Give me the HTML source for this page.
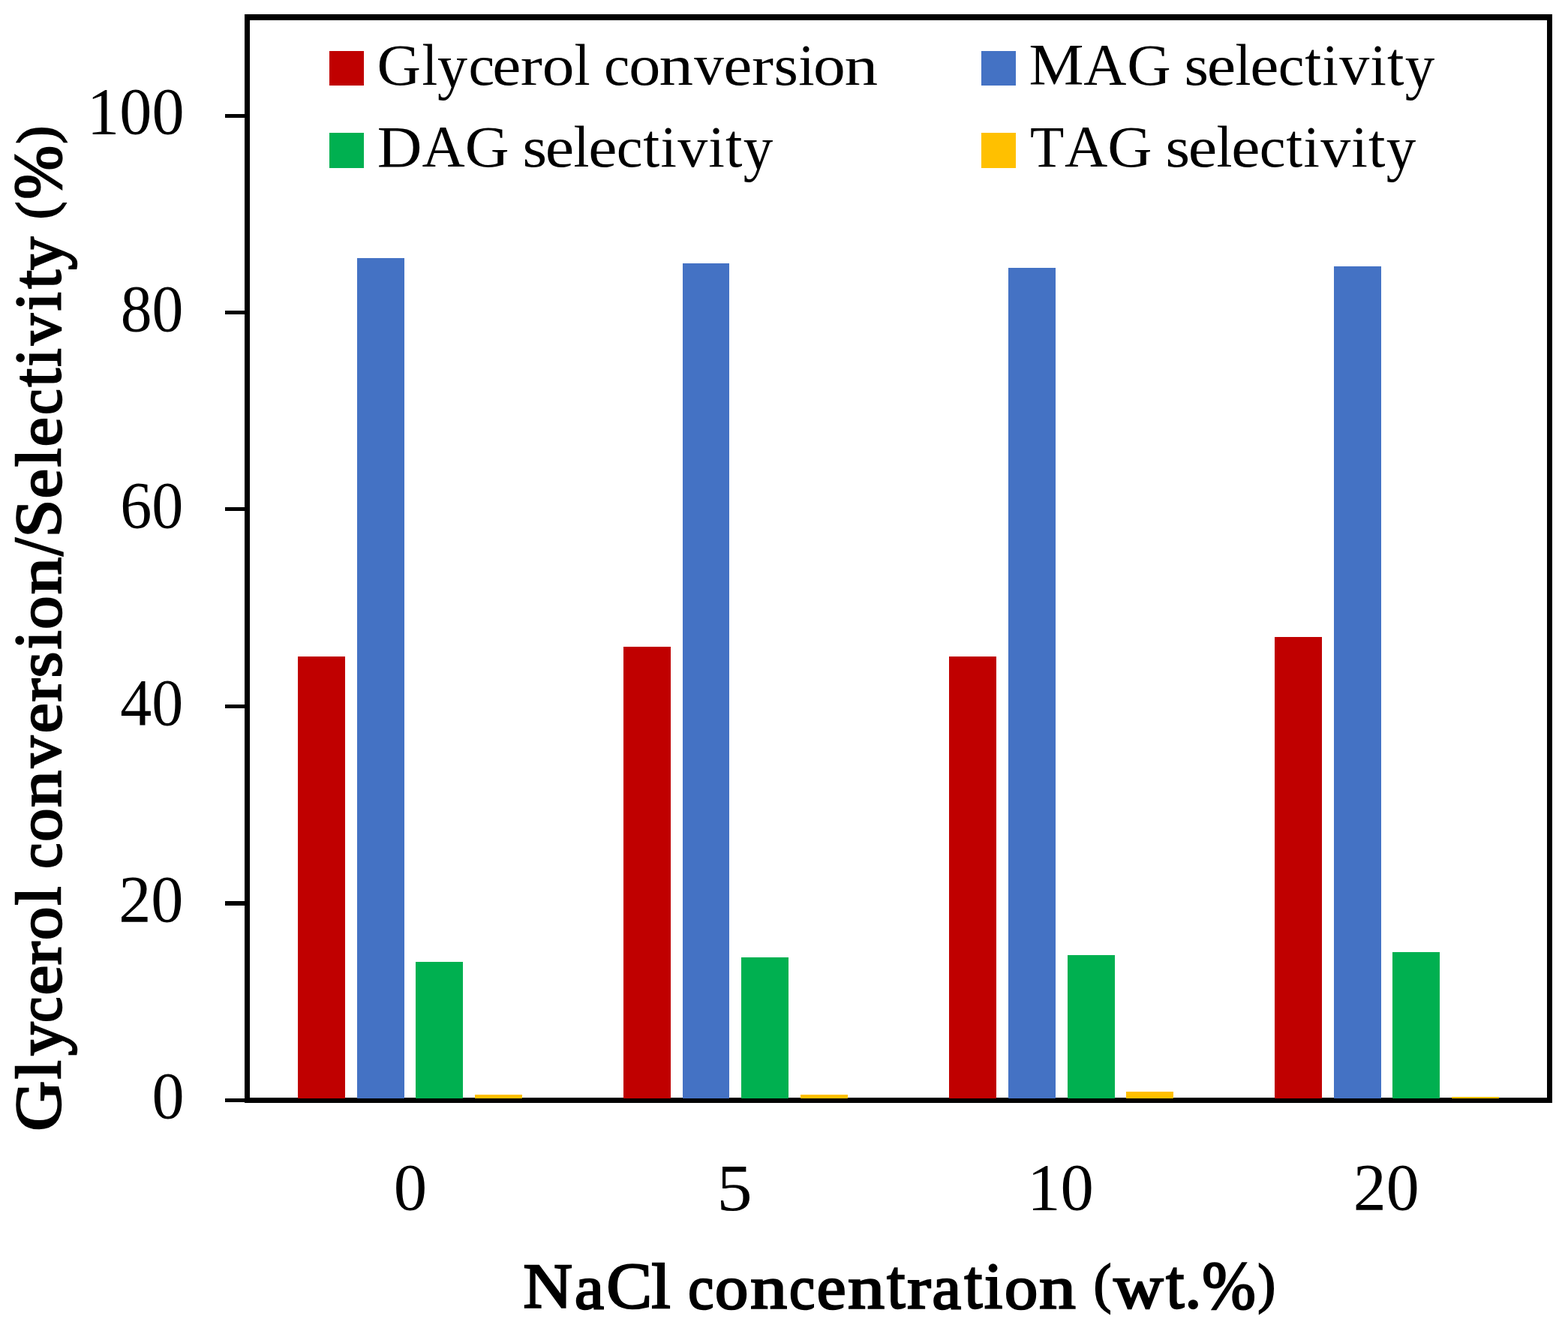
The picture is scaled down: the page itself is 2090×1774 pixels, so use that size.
<!DOCTYPE html>
<html lang="en"><head><meta charset="utf-8"><title>Glycerol conversion and selectivity vs NaCl concentration</title>
<style>html,body{margin:0;padding:0;background:#fff}body{width:2090px;height:1774px;overflow:hidden}svg{display:block}text{font-family:"Liberation Serif", serif;fill:#000}</style></head><body>
<svg width="2090" height="1774" viewBox="0 0 2090 1774" role="img" aria-label="Bar chart of glycerol conversion and MAG, DAG, TAG selectivity versus NaCl concentration">
<rect width="2090" height="1774" fill="#fff"/>
<path fill="#000" fill-rule="evenodd" d="M326 19H2069V1470H326Z M333 27H2062V1463H333Z"/>
<g fill="#000">
<rect x="300" y="152" width="27" height="5"/>
<rect x="300" y="414" width="27" height="5"/>
<rect x="300" y="676" width="27" height="5"/>
<rect x="300" y="939" width="27" height="5"/>
<rect x="300" y="1201" width="27" height="6"/>
<rect x="300" y="1464" width="27" height="5"/>
</g>
<g fill="#C00000">
<rect x="397" y="875" width="63" height="589"/>
<rect x="831" y="862" width="63" height="602"/>
<rect x="1265" y="875" width="63" height="589"/>
<rect x="1699" y="849" width="63" height="615"/>
</g>
<g fill="#4472C4">
<rect x="476" y="344" width="63" height="1120"/>
<rect x="910" y="351" width="62" height="1113"/>
<rect x="1344" y="357" width="63" height="1107"/>
<rect x="1778" y="355" width="63" height="1109"/>
</g>
<g fill="#00B050">
<rect x="554" y="1282" width="63" height="182"/>
<rect x="988" y="1276" width="63" height="188"/>
<rect x="1423" y="1273" width="63" height="191"/>
<rect x="1856" y="1269" width="63" height="195"/>
</g>
<g fill="#FFC000">
<rect x="633" y="1459" width="63" height="5"/>
<rect x="1067" y="1459" width="63" height="5"/>
<rect x="1501" y="1455" width="63" height="9"/>
<rect x="1935" y="1462" width="63" height="2"/>
</g>
<rect x="439" y="68" width="46" height="46" fill="#C00000"/>
<rect x="1308" y="68" width="46" height="46" fill="#4472C4"/>
<rect x="439" y="177" width="46" height="47" fill="#00B050"/>
<rect x="1308" y="177" width="46" height="47" fill="#FFC000"/>
<text><tspan x="116.11" y="178.33" font-size="88.64" textLength="129.41" lengthAdjust="spacingAndGlyphs">100</tspan></text>
<text><tspan x="160.66" y="440.72" font-size="88.57" textLength="83.75" lengthAdjust="spacingAndGlyphs">80</tspan></text>
<text><tspan x="160.27" y="703.13" font-size="88.60" textLength="84.14" lengthAdjust="spacingAndGlyphs">60</tspan></text>
<text><tspan x="160.36" y="965.54" font-size="88.73" textLength="83.93" lengthAdjust="spacingAndGlyphs">40</tspan></text>
<text><tspan x="158.22" y="1227.94" font-size="88.59" textLength="86.24" lengthAdjust="spacingAndGlyphs">20</tspan></text>
<text><tspan x="202.48" y="1490.33" font-size="88.62" textLength="43.13" lengthAdjust="spacingAndGlyphs">0</tspan></text>
<text><tspan x="524.69" y="1612.45" font-size="89.24" textLength="44.43" lengthAdjust="spacingAndGlyphs">0</tspan></text>
<text><tspan x="955.59" y="1612.90" font-size="89.83" textLength="47.17" lengthAdjust="spacingAndGlyphs">5</tspan></text>
<text><tspan x="1369.20" y="1612.43" font-size="89.18" textLength="88.69" lengthAdjust="spacingAndGlyphs">10</tspan></text>
<text><tspan x="1803.74" y="1612.43" font-size="89.15" textLength="87.91" lengthAdjust="spacingAndGlyphs">20</tspan></text>
<text><tspan x="502.63" y="113.11" font-size="78.95" textLength="58.50" lengthAdjust="spacingAndGlyphs">G</tspan><tspan x="562.50" y="112.80" font-size="77.19" textLength="20.71" lengthAdjust="spacingAndGlyphs">l</tspan><tspan x="583.00" y="115.87" font-size="83.51" textLength="40.02" lengthAdjust="spacingAndGlyphs">y</tspan><tspan x="624.50" y="113.00" font-size="77.08" textLength="34.73" lengthAdjust="spacingAndGlyphs">c</tspan><tspan x="656.31" y="113.00" font-size="77.08" textLength="38.07" lengthAdjust="spacingAndGlyphs">e</tspan><tspan x="693.85" y="112.80" font-size="74.79" textLength="29.12" lengthAdjust="spacingAndGlyphs">r</tspan><tspan x="722.82" y="113.00" font-size="77.08" textLength="42.67" lengthAdjust="spacingAndGlyphs">o</tspan><tspan x="765.57" y="112.80" font-size="77.19" textLength="21.19" lengthAdjust="spacingAndGlyphs">l</tspan> <tspan x="804.90" y="113.00" font-size="77.08" textLength="34.32" lengthAdjust="spacingAndGlyphs">c</tspan><tspan x="838.36" y="113.00" font-size="77.08" textLength="42.08" lengthAdjust="spacingAndGlyphs">o</tspan><tspan x="878.60" y="112.80" font-size="75.10" textLength="45.56" lengthAdjust="spacingAndGlyphs">n</tspan><tspan x="925.30" y="112.49" font-size="76.15" textLength="39.51" lengthAdjust="spacingAndGlyphs">v</tspan><tspan x="964.31" y="113.00" font-size="77.08" textLength="38.07" lengthAdjust="spacingAndGlyphs">e</tspan><tspan x="1001.96" y="112.80" font-size="74.71" textLength="29.03" lengthAdjust="spacingAndGlyphs">r</tspan><tspan x="1031.64" y="113.00" font-size="77.08" textLength="32.42" lengthAdjust="spacingAndGlyphs">s</tspan><tspan x="1064.18" y="112.78" font-size="77.58" textLength="21.40" lengthAdjust="spacingAndGlyphs">i</tspan><tspan x="1084.11" y="113.00" font-size="77.08" textLength="42.79" lengthAdjust="spacingAndGlyphs">o</tspan><tspan x="1125.44" y="112.80" font-size="74.91" textLength="44.74" lengthAdjust="spacingAndGlyphs">n</tspan></text>
<text><tspan x="502.71" y="221.86" font-size="77.99" textLength="59.67" lengthAdjust="spacingAndGlyphs">D</tspan><tspan x="562.62" y="220.90" font-size="77.67" textLength="57.18" lengthAdjust="spacingAndGlyphs">A</tspan><tspan x="619.71" y="222.21" font-size="78.97" textLength="58.85" lengthAdjust="spacingAndGlyphs">G</tspan> <tspan x="696.63" y="222.10" font-size="77.08" textLength="32.55" lengthAdjust="spacingAndGlyphs">s</tspan><tspan x="726.88" y="222.10" font-size="77.08" textLength="38.46" lengthAdjust="spacingAndGlyphs">e</tspan><tspan x="764.38" y="221.90" font-size="77.19" textLength="20.95" lengthAdjust="spacingAndGlyphs">l</tspan><tspan x="784.30" y="222.10" font-size="77.08" textLength="38.19" lengthAdjust="spacingAndGlyphs">e</tspan><tspan x="821.70" y="222.10" font-size="77.08" textLength="34.81" lengthAdjust="spacingAndGlyphs">c</tspan><tspan x="857.22" y="221.89" font-size="81.88" textLength="21.94" lengthAdjust="spacingAndGlyphs">t</tspan><tspan x="880.38" y="221.88" font-size="77.58" textLength="21.40" lengthAdjust="spacingAndGlyphs">i</tspan><tspan x="903.20" y="221.59" font-size="76.15" textLength="40.02" lengthAdjust="spacingAndGlyphs">v</tspan><tspan x="944.27" y="221.88" font-size="77.54" textLength="21.62" lengthAdjust="spacingAndGlyphs">i</tspan><tspan x="966.91" y="221.89" font-size="81.88" textLength="22.48" lengthAdjust="spacingAndGlyphs">t</tspan><tspan x="990.70" y="224.97" font-size="83.51" textLength="39.52" lengthAdjust="spacingAndGlyphs">y</tspan></text>
<text><tspan x="1371.52" y="112.35" font-size="78.29" textLength="73.02" lengthAdjust="spacingAndGlyphs">M</tspan><tspan x="1444.22" y="111.80" font-size="77.67" textLength="57.18" lengthAdjust="spacingAndGlyphs">A</tspan><tspan x="1502.24" y="113.11" font-size="78.94" textLength="58.44" lengthAdjust="spacingAndGlyphs">G</tspan> <tspan x="1578.63" y="113.00" font-size="77.08" textLength="32.55" lengthAdjust="spacingAndGlyphs">s</tspan><tspan x="1608.88" y="113.00" font-size="77.08" textLength="38.46" lengthAdjust="spacingAndGlyphs">e</tspan><tspan x="1646.38" y="112.80" font-size="77.19" textLength="20.95" lengthAdjust="spacingAndGlyphs">l</tspan><tspan x="1666.30" y="113.00" font-size="77.08" textLength="38.19" lengthAdjust="spacingAndGlyphs">e</tspan><tspan x="1703.70" y="113.00" font-size="77.08" textLength="34.81" lengthAdjust="spacingAndGlyphs">c</tspan><tspan x="1739.22" y="112.79" font-size="81.88" textLength="21.94" lengthAdjust="spacingAndGlyphs">t</tspan><tspan x="1762.38" y="112.78" font-size="77.58" textLength="21.40" lengthAdjust="spacingAndGlyphs">i</tspan><tspan x="1785.20" y="112.49" font-size="76.15" textLength="40.02" lengthAdjust="spacingAndGlyphs">v</tspan><tspan x="1826.27" y="112.78" font-size="77.54" textLength="21.62" lengthAdjust="spacingAndGlyphs">i</tspan><tspan x="1848.91" y="112.79" font-size="81.88" textLength="22.48" lengthAdjust="spacingAndGlyphs">t</tspan><tspan x="1872.70" y="115.87" font-size="83.51" textLength="39.52" lengthAdjust="spacingAndGlyphs">y</tspan></text>
<text><tspan x="1372.95" y="221.67" font-size="78.94" textLength="45.29" lengthAdjust="spacingAndGlyphs">T</tspan><tspan x="1419.12" y="220.90" font-size="77.67" textLength="57.28" lengthAdjust="spacingAndGlyphs">A</tspan><tspan x="1476.19" y="222.21" font-size="78.94" textLength="59.28" lengthAdjust="spacingAndGlyphs">G</tspan> <tspan x="1553.63" y="222.10" font-size="77.08" textLength="32.55" lengthAdjust="spacingAndGlyphs">s</tspan><tspan x="1583.88" y="222.10" font-size="77.08" textLength="38.46" lengthAdjust="spacingAndGlyphs">e</tspan><tspan x="1621.38" y="221.90" font-size="77.19" textLength="20.95" lengthAdjust="spacingAndGlyphs">l</tspan><tspan x="1641.30" y="222.10" font-size="77.08" textLength="38.19" lengthAdjust="spacingAndGlyphs">e</tspan><tspan x="1678.70" y="222.10" font-size="77.08" textLength="34.81" lengthAdjust="spacingAndGlyphs">c</tspan><tspan x="1714.22" y="221.89" font-size="81.88" textLength="21.94" lengthAdjust="spacingAndGlyphs">t</tspan><tspan x="1737.38" y="221.88" font-size="77.58" textLength="21.40" lengthAdjust="spacingAndGlyphs">i</tspan><tspan x="1760.20" y="221.59" font-size="76.15" textLength="40.02" lengthAdjust="spacingAndGlyphs">v</tspan><tspan x="1801.27" y="221.88" font-size="77.54" textLength="21.62" lengthAdjust="spacingAndGlyphs">i</tspan><tspan x="1823.91" y="221.89" font-size="81.88" textLength="22.48" lengthAdjust="spacingAndGlyphs">t</tspan><tspan x="1847.70" y="224.97" font-size="83.51" textLength="39.52" lengthAdjust="spacingAndGlyphs">y</tspan></text>
<text stroke="#000" stroke-width="2.5" stroke-linejoin="miter"><tspan x="697.51" y="1742.80" font-size="84.41" textLength="65.35" lengthAdjust="spacingAndGlyphs">N</tspan><tspan x="766.03" y="1743.67" font-size="81.96" textLength="38.87" lengthAdjust="spacingAndGlyphs">a</tspan><tspan x="808.46" y="1743.36" font-size="86.59" textLength="60.45" lengthAdjust="spacingAndGlyphs">C</tspan><tspan x="868.43" y="1742.75" font-size="83.82" textLength="25.07" lengthAdjust="spacingAndGlyphs">l</tspan> <tspan x="917.23" y="1743.65" font-size="81.88" textLength="34.09" lengthAdjust="spacingAndGlyphs">c</tspan><tspan x="953.04" y="1743.67" font-size="81.96" textLength="44.22" lengthAdjust="spacingAndGlyphs">o</tspan><tspan x="1000.28" y="1743.17" font-size="80.00" textLength="48.70" lengthAdjust="spacingAndGlyphs">n</tspan><tspan x="1052.03" y="1743.65" font-size="81.88" textLength="34.17" lengthAdjust="spacingAndGlyphs">c</tspan><tspan x="1088.87" y="1743.66" font-size="81.93" textLength="38.84" lengthAdjust="spacingAndGlyphs">e</tspan><tspan x="1130.38" y="1743.17" font-size="80.00" textLength="48.59" lengthAdjust="spacingAndGlyphs">n</tspan><tspan x="1182.32" y="1743.28" font-size="92.38" textLength="24.21" lengthAdjust="spacingAndGlyphs">t</tspan><tspan x="1209.50" y="1742.71" font-size="78.74" textLength="31.08" lengthAdjust="spacingAndGlyphs">r</tspan><tspan x="1242.46" y="1743.67" font-size="81.94" textLength="38.43" lengthAdjust="spacingAndGlyphs">a</tspan><tspan x="1285.42" y="1743.30" font-size="92.39" textLength="23.84" lengthAdjust="spacingAndGlyphs">t</tspan><tspan x="1311.90" y="1742.51" font-size="87.76" textLength="24.35" lengthAdjust="spacingAndGlyphs">i</tspan><tspan x="1339.14" y="1743.67" font-size="81.96" textLength="44.22" lengthAdjust="spacingAndGlyphs">o</tspan><tspan x="1385.39" y="1743.17" font-size="79.96" textLength="48.39" lengthAdjust="spacingAndGlyphs">n</tspan> <tspan x="1458.02" y="1735.39" font-size="72.81" textLength="23.04" lengthAdjust="spacingAndGlyphs">(</tspan><tspan x="1484.40" y="1742.64" font-size="82.07" textLength="65.87" lengthAdjust="spacingAndGlyphs">w</tspan><tspan x="1554.22" y="1743.28" font-size="92.38" textLength="24.21" lengthAdjust="spacingAndGlyphs">t</tspan><tspan x="1579.13" y="1742.69" font-size="88.98" textLength="22.69" lengthAdjust="spacingAndGlyphs">.</tspan><tspan x="1602.24" y="1744.33" font-size="90.49" textLength="71.56" lengthAdjust="spacingAndGlyphs">%</tspan><tspan x="1676.75" y="1735.45" font-size="72.43" textLength="23.12" lengthAdjust="spacingAndGlyphs">)</tspan></text>
<text transform="rotate(-90)" stroke="#000" stroke-width="2.5" stroke-linejoin="miter"><tspan x="-1507.80" y="80.45" font-size="86.57" textLength="67.17" lengthAdjust="spacingAndGlyphs">G</tspan><tspan x="-1438.17" y="79.85" font-size="83.82" textLength="25.07" lengthAdjust="spacingAndGlyphs">l</tspan><tspan x="-1406.92" y="83.36" font-size="88.96" textLength="44.54" lengthAdjust="spacingAndGlyphs">y</tspan><tspan x="-1362.77" y="80.75" font-size="81.88" textLength="34.09" lengthAdjust="spacingAndGlyphs">c</tspan><tspan x="-1326.35" y="80.77" font-size="81.95" textLength="39.40" lengthAdjust="spacingAndGlyphs">e</tspan><tspan x="-1286.10" y="79.81" font-size="78.74" textLength="30.75" lengthAdjust="spacingAndGlyphs">r</tspan><tspan x="-1253.06" y="80.77" font-size="81.96" textLength="44.22" lengthAdjust="spacingAndGlyphs">o</tspan><tspan x="-1206.57" y="79.85" font-size="83.82" textLength="25.07" lengthAdjust="spacingAndGlyphs">l</tspan> <tspan x="-1157.76" y="80.75" font-size="81.88" textLength="33.96" lengthAdjust="spacingAndGlyphs">c</tspan><tspan x="-1121.76" y="80.77" font-size="81.96" textLength="44.22" lengthAdjust="spacingAndGlyphs">o</tspan><tspan x="-1075.72" y="80.27" font-size="80.00" textLength="48.70" lengthAdjust="spacingAndGlyphs">n</tspan><tspan x="-1023.12" y="79.74" font-size="82.07" textLength="42.06" lengthAdjust="spacingAndGlyphs">v</tspan><tspan x="-977.39" y="80.78" font-size="82.01" textLength="40.05" lengthAdjust="spacingAndGlyphs">e</tspan><tspan x="-935.20" y="79.81" font-size="78.74" textLength="30.54" lengthAdjust="spacingAndGlyphs">r</tspan><tspan x="-903.35" y="80.75" font-size="81.85" textLength="34.55" lengthAdjust="spacingAndGlyphs">s</tspan><tspan x="-865.32" y="79.61" font-size="87.81" textLength="24.87" lengthAdjust="spacingAndGlyphs">i</tspan><tspan x="-838.66" y="80.77" font-size="81.96" textLength="44.22" lengthAdjust="spacingAndGlyphs">o</tspan><tspan x="-791.92" y="80.27" font-size="79.94" textLength="48.88" lengthAdjust="spacingAndGlyphs">n</tspan><tspan x="-740.66" y="81.82" font-size="92.96" textLength="23.35" lengthAdjust="spacingAndGlyphs">/</tspan><tspan x="-716.61" y="80.23" font-size="86.24" textLength="50.78" lengthAdjust="spacingAndGlyphs">S</tspan><tspan x="-664.34" y="80.76" font-size="81.95" textLength="39.17" lengthAdjust="spacingAndGlyphs">e</tspan><tspan x="-622.27" y="79.85" font-size="83.82" textLength="24.87" lengthAdjust="spacingAndGlyphs">l</tspan><tspan x="-595.33" y="80.76" font-size="81.93" textLength="39.05" lengthAdjust="spacingAndGlyphs">e</tspan><tspan x="-552.77" y="80.75" font-size="81.88" textLength="34.17" lengthAdjust="spacingAndGlyphs">c</tspan><tspan x="-515.47" y="80.38" font-size="92.37" textLength="24.41" lengthAdjust="spacingAndGlyphs">t</tspan><tspan x="-488.40" y="79.61" font-size="87.76" textLength="24.26" lengthAdjust="spacingAndGlyphs">i</tspan><tspan x="-459.74" y="79.74" font-size="82.07" textLength="41.49" lengthAdjust="spacingAndGlyphs">v</tspan><tspan x="-414.01" y="79.61" font-size="87.78" textLength="24.66" lengthAdjust="spacingAndGlyphs">i</tspan><tspan x="-384.87" y="80.38" font-size="92.35" textLength="24.79" lengthAdjust="spacingAndGlyphs">t</tspan><tspan x="-359.63" y="83.37" font-size="88.98" textLength="43.96" lengthAdjust="spacingAndGlyphs">y</tspan> <tspan x="-291.88" y="72.49" font-size="72.81" textLength="23.04" lengthAdjust="spacingAndGlyphs">(</tspan><tspan x="-265.55" y="81.43" font-size="90.48" textLength="71.46" lengthAdjust="spacingAndGlyphs">%</tspan><tspan x="-191.15" y="72.55" font-size="72.43" textLength="23.12" lengthAdjust="spacingAndGlyphs">)</tspan></text>
</svg></body></html>
